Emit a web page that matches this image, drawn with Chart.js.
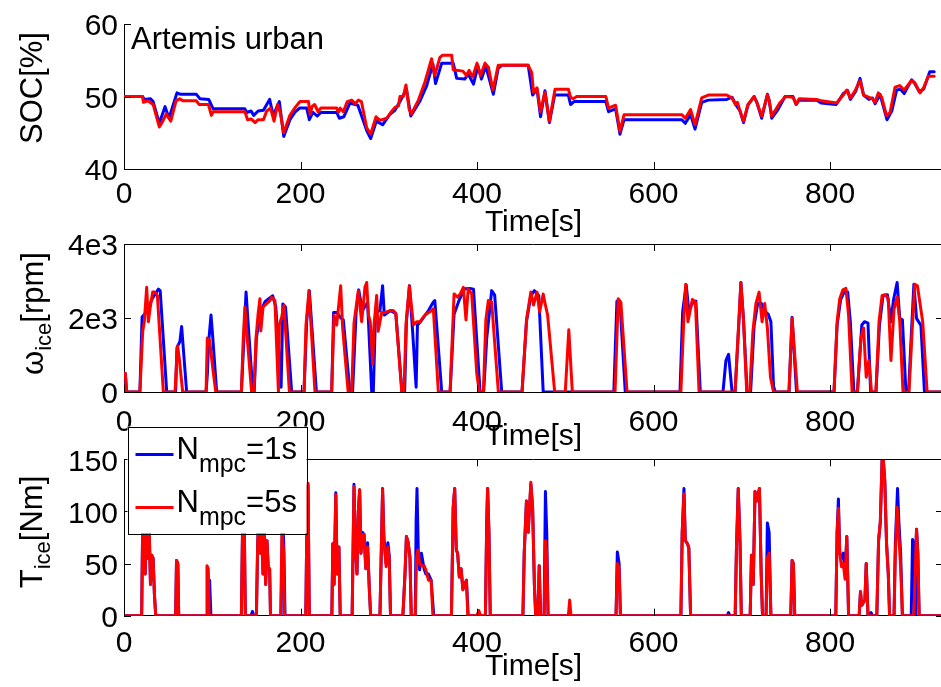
<!DOCTYPE html>
<html>
<head>
<meta charset="utf-8">
<script src="https://cdn.jsdelivr.net/npm/chart.js@4.4.1/dist/chart.umd.min.js"></script>
<style>
html, body { margin: 0; padding: 0; background: #fff; overflow: hidden; width: 941px; height: 687px; }
.panel { position: absolute; left: 0; width: 960px; }
</style>
</head>
<body>
<div class="panel" style="top:0;height:250px"><canvas id="socChart"></canvas></div>
<div class="panel" style="top:220px;height:250px"><canvas id="omegaChart"></canvas></div>
<div class="panel" style="top:415px;height:272px"><canvas id="torqueChart"></canvas></div>
<script>
// time axis
const timeMax = 928;
const timeTicks = [0, 200, 400, 600, 800];

// SOC [%], pairs of [time s, value]
const socTicks = [40, 50, 60];
const socTickLabels = ['40', '50', '60'];
const socBlue = [[0,50.0],[21,50.0],[23,49.6],[30,49.7],[33,49.3],[40,46.3],[46.5,48.6],[51,47.0],[60,50.5],[64,50.3],[82,50.3],[86,49.7],[96,49.6],[101,48.3],[137,48.3],[139,47.8],[144,48.0],[147,47.4],[152,48.0],[158,48.1],[165,49.6],[169,47.4],[176,49.3],[181,44.5],[188,46.8],[194,47.9],[199,48.4],[207,48.4],[210,46.8],[214,47.8],[219,47.3],[223,47.8],[241,47.8],[244,47.0],[249,47.2],[256,49.1],[265,48.8],[275,45.3],[279.5,44.2],[286,46.6],[293,46.1],[301,47.5],[307,48.1],[314,49.6],[320,51.0],[325,47.3],[335,49.3],[343,51.5],[350,54.5],[353,51.8],[360,54.6],[373,54.6],[377,52.5],[386,52.4],[390,53.1],[396,51.7],[401,54.2],[405,52.4],[410,54.2],[418.5,50.3],[424,53.9],[428,54.3],[458,54.3],[463,50.2],[468,51.0],[472,47.2],[477,50.8],[482,46.4],[488,50.2],[503.5,50.2],[506,48.9],[510,49.3],[546,49.3],[549,47.9],[557,48.3],[562,44.8],[566.6,46.8],[632,46.8],[636,46.3],[642,47.5],[647,45.5],[654.6,49.2],[662,49.5],[683,49.6],[689,49.9],[693,48.9],[698,48.0],[702,46.4],[707,48.8],[714,50.0],[717,49.2],[722.6,47.0],[729,50.3],[731,49.5],[734,47.0],[741,48.2],[749,50.0],[758,50.0],[761.5,48.9],[765,49.5],[785,49.5],[790,49.1],[807,48.9],[815,50.4],[820,50.8],[823,49.6],[829,50.7],[834,52.5],[838,50.2],[844,49.6],[848,49.8],[851,49.0],[856.7,50.3],[864.5,46.8],[870,48.0],[875.5,50.9],[880,51.0],[884,50.4],[892.5,52.3],[896,51.8],[901,50.7],[906,51.0],[913,53.4],[918,53.4]];
const socRed = [[0,50.0],[21,50.0],[22,49.2],[27,49.4],[33,48.9],[40,45.8],[44,46.6],[48,47.6],[53,46.6],[59,49.4],[63,49.7],[67,49.4],[82,49.4],[85,48.9],[95.6,48.9],[99,47.4],[101,47.9],[137,47.9],[140,46.8],[144,46.9],[148.5,46.4],[152,46.8],[158,46.8],[161.7,48.0],[166,48.4],[170,46.6],[174,48.9],[177,47.8],[181,45.0],[188,47.4],[194,48.5],[199.4,49.3],[209,49.3],[211,47.5],[213,48.6],[216,48.9],[220,47.9],[223,48.4],[241,48.4],[243,47.8],[245,48.4],[248.5,47.9],[253,49.3],[258,49.5],[262,49.0],[265.5,49.5],[269,49.3],[275,45.7],[279.5,44.8],[285.6,47.2],[290,46.7],[297.7,47.0],[303,47.9],[307,48.5],[311,48.7],[312.7,50.0],[316.5,50.0],[319.5,51.6],[323,48.3],[325.6,47.6],[333.6,49.5],[341,52.0],[348.5,55.2],[352,52.9],[358,55.4],[361,55.7],[371.3,55.7],[373,53.7],[384,53.5],[388,52.9],[391,53.6],[395,52.7],[400,54.6],[404,52.9],[409,54.6],[413,54.0],[418,50.9],[424,54.3],[458,54.3],[462,53.3],[464,50.6],[468,51.2],[472,47.9],[477,50.6],[482,46.6],[488.4,51.0],[503.5,51.0],[506,49.9],[509,49.7],[513,50.0],[546,50.0],[549,48.4],[557,48.8],[562,45.2],[566.6,47.5],[632,47.5],[636,47.0],[642,48.2],[647,46.1],[654.6,49.8],[662,50.2],[683,50.2],[689,49.8],[693,48.9],[695,49.2],[698,48.0],[702,46.6],[707,48.9],[714,50.0],[717,49.2],[722.6,47.3],[729,50.2],[731,49.5],[734,47.3],[743,49.1],[750,50.0],[758,49.9],[762,48.9],[765,49.7],[785,49.6],[790,49.4],[807.5,49.1],[815,50.2],[819,50.9],[823,49.8],[828,50.7],[834,52.2],[838,50.2],[845.6,49.8],[848,49.7],[851,49.2],[854.7,50.5],[858.5,49.9],[864.2,47.3],[868,47.8],[873.7,51.3],[879,51.5],[884,50.9],[892.5,52.2],[896,51.9],[902,50.5],[906,51.2],[911.4,52.8],[918,52.8]];

// engine speed [rpm]
const omegaTicks = [0, 2000, 4000];
const omegaTickLabels = ['0', '2e3', '4e3'];
const omegaBlue = [[0,500],[1.5,500],[3,0],[18,0],[20.5,2030],[25,2150],[32,2520],[39,2780],[41,2740],[48.4,0],[58.5,0],[60,1200],[63.4,1370],[65.3,1770],[71,0],[93,0],[94.5,500],[96,1370],[98.6,2080],[100.5,1500],[105,0],[133,0],[135.5,1250],[138.3,2700],[141,1730],[146,0],[147.5,0],[150,1460],[155,2200],[160,2450],[168.5,2600],[172,2300],[178,130],[180,2380],[183,2300],[190,0],[204,0],[207,1900],[210,2740],[218,0],[235.3,0],[237.5,2150],[241,2150],[246,1990],[248.5,1950],[256,0],[259,0],[263,2150],[266,2760],[270,2200],[276,2420],[280.7,0],[282.5,0],[285,2150],[290,2200],[293,2870],[295,2080],[302,2200],[308,2120],[315,0],[318,0],[320,1900],[323.5,2870],[327,1650],[331,130],[332.5,1810],[336,1900],[345,2200],[350.5,2430],[352.2,2470],[360,0],[369.5,0],[374,2100],[380,2500],[386,2790],[392,2800],[396,2780],[403.5,0],[407.5,0],[411,1450],[416.6,2740],[420,2620],[428,0],[451,0],[456,1900],[461,2600],[465,2740],[470,2600],[475,0],[555,0],[558.5,2450],[562,2400],[568,0],[630,0],[633,2170],[637,2900],[640,2200],[644,2390],[648,2460],[653,0],[678.7,0],[682,850],[685,1020],[689,0],[692.4,0],[697,2000],[699,2960],[702,1950],[706,0],[710,0],[714,1800],[718,2390],[722,2400],[727,2170],[730,2100],[733,1900],[736,150],[738,0],[753.5,0],[757,2020],[762,0],[804.5,0],[808,1800],[812,2500],[816,2700],[820,2700],[823,1900],[827,0],[831,0],[836,1810],[839,1900],[843,1860],[846,0],[852,0],[856,1800],[860,2600],[865,2630],[869,1900],[872,2500],[876,2960],[879,1990],[882,1950],[886,0],[889,0],[892,1500],[895,2910],[898,1990],[903,1800],[907,0],[928,0]];
const omegaRed = [[0,500],[1.5,500],[3,0],[18,0],[21.2,1640],[23,1900],[25.7,2830],[27.6,1900],[29.5,2250],[32.5,2700],[35,2700],[37.8,2610],[44.6,0],[57.8,0],[59.7,890],[60.8,1240],[62.7,890],[66.5,0],[93,0],[94.4,1460],[97,1400],[100.7,620],[104,0],[133,0],[135,1370],[137,2300],[139.6,1460],[144.6,0],[147.3,0],[149.6,1460],[152,2120],[154,2520],[155,1650],[157.6,2300],[165.4,2470],[167.3,2560],[171,2470],[175,0],[176,1810],[178.7,2030],[181.3,2340],[187.4,0],[204,0],[206.2,1810],[209.6,2740],[216.4,0],[235.3,0],[238,2080],[241,1810],[245.5,2870],[247.8,1720],[254,0],[258,0],[260.6,1860],[265.5,2740],[269.3,1900],[273,2830],[275,2960],[277,2080],[279,1900],[281.8,750],[283.3,1810],[286.3,2610],[288,1640],[292,2150],[296,2150],[301.4,2200],[305,2200],[308,2120],[314.7,0],[317.3,0],[319.5,1810],[323.3,2870],[326,2250],[328,1810],[332,1900],[335.4,1900],[341,2080],[348.6,2200],[350.5,2250],[356.2,0],[369.5,0],[374,2650],[378,2560],[381,2650],[384.5,2830],[387.5,1950],[390,2790],[394,2650],[399.7,500],[402.7,0],[407.2,0],[410,1940],[412.8,2470],[416.6,2430],[424.2,0],[451,0],[456.3,1990],[461,2700],[464,2350],[468,2700],[471,2170],[475,2650],[477,2400],[480,2080],[488,0],[500,0],[504,1680],[508,0],[556.4,0],[560,2520],[563,2430],[570,0],[631,0],[634.5,2080],[636.5,2910],[639,1900],[644,2500],[647.5,2430],[651.6,0],[692.4,0],[697,2080],[699,2960],[702,1900],[705.6,0],[709,0],[712.6,1640],[716,2390],[719.6,2700],[723,1900],[726,2390],[729,1730],[732.5,400],[736,0],[753.5,0],[757,2000],[763,0],[804.5,0],[808,1900],[811,2520],[814.6,2760],[818,2800],[821,2080],[825,0],[831,0],[835,1460],[838,1730],[841,400],[844,850],[847,0],[852,0],[855.5,1900],[859,2610],[862.5,2630],[866,2520],[869,850],[872.5,2230],[876,2570],[879,1900],[882.7,0],[889.5,0],[893,1640],[896,2910],[899,2870],[905,1900],[910,0],[928,0]];

// engine torque [Nm]
const torqueTicks = [0, 50, 100, 150];
const torqueTickLabels = ['0', '50', '100', '150'];
const torqueBlue = [[0,0],[20,0],[21,75],[22.5,95],[24,40],[25.5,90],[27,55],[28.5,85],[30,30],[31.5,58],[33,55],[34.5,20],[36,0],[58.5,0],[59.5,53],[61,50],[62,0],[95,0],[96,20],[97,34],[98.5,0],[133,0],[134.5,95],[136,110],[137.5,0],[144,0],[145.5,4],[147,0],[150,0],[151.5,70],[153,100],[154.5,60],[156,105],[157.5,40],[159,85],[160.5,30],[162,72],[163.5,45],[165,45],[166,0],[178,0],[179.5,95],[181,70],[182.5,0],[206,0],[207.5,110],[208.5,125],[210,0],[235.5,0],[236.6,69],[238,30],[240,118],[241.5,40],[243.5,66],[245,0],[258.5,0],[260.6,126],[262,70],[264,40],[265.5,100],[267,120],[268.5,60],[270,80],[272,78],[274,45],[276,70],[278,25],[279.5,0],[290,0],[291.5,60],[293,122],[294.5,75],[297,50],[299,70],[300.5,58],[302,0],[316,0],[318.4,40],[320,76],[322,70],[324,56],[325.5,0],[330,0],[331,90],[332,122],[333.5,60],[335,44],[337,60],[340,45],[342,40],[345,40],[348,34],[351,0],[371,0],[373,104],[374.7,122],[376.5,63],[378,60],[380,37],[382,45],[384,25],[386,30],[388,34],[390,0],[409.5,0],[411,90],[412,122],[413.5,81],[415,0],[452,0],[453.5,60],[456,110],[458,80],[461,126],[463,104],[465,30],[466.5,0],[469,0],[470.5,48],[472,0],[476,0],[477.5,119],[479,80],[480.5,0],[557.5,0],[559,61],[561,50],[562.5,0],[631,0],[632.5,80],[634.5,122],[636,72],[638.5,69],[640,65],[642,0],[683.5,0],[685,3],[686.5,0],[692.5,0],[694,66],[696,122],[698,70],[699.5,0],[709.5,0],[711,58],[713,30],[715,119],[717,110],[720,122],[722,40],[723.5,0],[727.5,0],[729,89],[731,80],[733,0],[755.5,0],[757,53],[758.5,50],[760,0],[806.5,0],[808,80],[809.5,112],[811,60],[813,55],[815,60],[817,40],[819,76],[821,0],[833,0],[834.5,23],[836,10],[839.5,15],[841,50],[843,0],[845,0],[846.5,3],[848,0],[853,0],[855,72],[857,90],[859,150],[860.4,149],[862,130],[864,70],[866,40],[867.5,0],[872.5,0],[874,70],[876.5,122],[878,90],[880,60],[882,0],[892,0],[893.5,73],[895,70],[896.5,0],[897,55],[898,83],[899.5,60],[901,0],[928,0]];
const torqueRed = [[0,0],[20,0],[21,75],[22.5,95],[24,40],[25.5,90],[27,55],[28.5,85],[30,30],[31.5,58],[33,55],[34.5,20],[36,0],[58.5,0],[59.5,53],[61,50],[62,0],[93,0],[94,48],[95.5,45],[96.5,0],[133,0],[134.5,95],[136,110],[137.5,0],[150,0],[151.5,70],[153,100],[154.5,60],[156,105],[157.5,40],[159,85],[160.5,30],[162,72],[163.5,45],[165,45],[166,0],[177.5,0],[179,80],[181,60],[182,0],[206,0],[207.5,110],[208.5,127],[210,0],[235.5,0],[236.6,69],[238,30],[240,116],[241.5,40],[243.5,66],[245,0],[258.5,0],[260.6,124],[262,70],[264,40],[265.5,100],[267,121],[268.5,60],[270,77],[272,78],[274,45],[276,66],[278,25],[279.5,0],[290,0],[291.5,60],[293,121],[294.5,72],[297,47],[299,66],[300.5,55],[302,0],[316,0],[318.4,40],[320,76],[322,70],[324,56],[325.5,0],[330,0],[331.5,56],[333,63],[335,50],[337,48],[340,48],[342,44],[345,34],[348,34],[350,0],[371,0],[373,104],[374.7,122],[376.5,63],[378,60],[380,37],[382,45],[384,25],[386,30],[388,34],[389.6,0],[400,0],[402,5],[404,0],[409.5,0],[411,90],[412,122],[413.5,81],[415,0],[452,0],[453.5,60],[456,110],[458,80],[461,128],[463,104],[465,30],[466.5,0],[469,0],[470.5,48],[472,0],[476,0],[477.5,72],[479,60],[480.5,0],[503.5,0],[505,15],[506.5,0],[557.5,0],[559,50],[561,45],[562.5,0],[631,0],[632.5,80],[634.5,117],[636,72],[638.5,69],[640,65],[642,0],[692.5,0],[694,66],[696,122],[698,70],[699.5,0],[709.5,0],[711,58],[713,30],[715,119],[717,110],[720,122],[722,40],[723.5,0],[727.5,0],[729,55],[731,60],[733,0],[755.5,0],[757,53],[758.5,50],[760,0],[806.5,0],[808,80],[809.5,103],[811,60],[813,47],[815,50],[817,35],[819,76],[821,0],[833,0],[834.5,23],[836,10],[839.5,15],[841,50],[843,0],[853,0],[855,72],[857,90],[859,150],[860.4,149],[862,130],[864,70],[866,40],[867.5,0],[872.5,0],[874,60],[876,104],[878,76],[880,47],[882,0],[895,0],[897,55],[898,83],[899.5,60],[901,0],[928,0]];

const seriesNames = ['N_mpc=1s', 'N_mpc=5s'];
const seriesColors = ['#0000ff', '#ff0000'];

const FONT = '"Liberation Sans", Arial, Helvetica, sans-serif';
const AXIS_LEFT = 124;

Chart.defaults.font.family = FONT;
Chart.defaults.font.size = 30;
Chart.defaults.color = '#000';

// MATLAB style inward ticks and optional box
const matlabAxes = {
  id: 'matlabAxes',
  afterDraw(chart, args, opts) {
    const { ctx, chartArea: a, scales: { x, y } } = chart;
    const len = 7;
    ctx.save();
    ctx.strokeStyle = '#000';
    ctx.lineWidth = 1;
    ctx.beginPath();
    x.ticks.forEach(t => {
      const px = Math.round(x.getPixelForValue(t.value)) + 0.5;
      ctx.moveTo(px, a.bottom); ctx.lineTo(px, a.bottom - len);
      if (opts.box) { ctx.moveTo(px, a.top); ctx.lineTo(px, a.top + len); }
    });
    y.ticks.forEach(t => {
      const py = Math.round(y.getPixelForValue(t.value)) + 0.5;
      ctx.moveTo(a.left, py); ctx.lineTo(a.left + len, py);
      if (opts.box) { ctx.moveTo(a.right, py); ctx.lineTo(a.right - len, py); }
    });
    if (opts.box) {
      ctx.moveTo(a.left, Math.round(a.top) + 0.5); ctx.lineTo(a.right, Math.round(a.top) + 0.5);
      ctx.moveTo(Math.round(a.right) + 0.5, a.top); ctx.lineTo(Math.round(a.right) + 0.5, a.bottom);
    }
    ctx.stroke();
    ctx.restore();
  }
};

// text made of [string, isSubscript] parts
function partsWidth(ctx, parts, size, subSize) {
  let w = 0;
  parts.forEach(p => {
    ctx.font = (p[1] ? subSize : size) + 'px ' + FONT;
    w += ctx.measureText(p[0]).width;
  });
  return w;
}

function drawParts(ctx, parts, x, y, size, subSize, subDrop) {
  parts.forEach(p => {
    ctx.font = (p[1] ? subSize : size) + 'px ' + FONT;
    ctx.fillText(p[0], x, p[1] ? y + subDrop : y);
    x += ctx.measureText(p[0]).width;
  });
}

const panelText = {
  id: 'panelText',
  afterDraw(chart, args, opts) {
    const ctx = chart.ctx;
    ctx.save();
    ctx.fillStyle = '#000';
    ctx.textBaseline = 'alphabetic';
    ctx.textAlign = 'left';
    if (opts.yTitle) {
      const t = opts.yTitle;
      const w = partsWidth(ctx, t.parts, 31, 22);
      ctx.save();
      ctx.translate(t.x, t.y);
      ctx.rotate(-Math.PI / 2);
      drawParts(ctx, t.parts, -w / 2, 0, 31, 22, 8);
      ctx.restore();
    }
    if (opts.note) {
      ctx.font = '31px ' + FONT;
      ctx.fillText(opts.note.text, opts.note.x, opts.note.y);
    }
    if (opts.legend) {
      const L = opts.legend;
      ctx.fillStyle = '#fff';
      ctx.fillRect(L.x, L.y, L.w, L.h);
      ctx.strokeStyle = '#000';
      ctx.lineWidth = 1;
      ctx.strokeRect(Math.round(L.x) + 0.5, Math.round(L.y) + 0.5, L.w, L.h);
      seriesNames.forEach((name, i) => {
        const rowY = L.y + L.firstRow + i * L.rowGap;
        ctx.strokeStyle = seriesColors[i];
        ctx.lineWidth = 3;
        ctx.beginPath();
        ctx.moveTo(L.x + 8, rowY - 4);
        ctx.lineTo(L.x + 46, rowY - 4);
        ctx.stroke();
        const m = name.match(/^(\w)_(\w+)(.*)$/);
        ctx.fillStyle = '#000';
        drawParts(ctx, [[m[1], false], [m[2], true], [m[3], false]], L.x + 49, rowY, 31, 25, 13);
      });
    }
    ctx.restore();
  }
};

function toPoints(pairs) {
  return pairs.map(p => ({ x: p[0], y: p[1] }));
}

function timeAxis(height, tickPad, titlePad) {
  return {
    type: 'linear',
    min: 0,
    max: timeMax,
    afterBuildTicks: s => { s.ticks = timeTicks.map(v => ({ value: v })); },
    afterFit: s => { s.height = height; },
    grid: { display: true, drawOnChartArea: false, drawTicks: false },
    border: { display: true, color: '#000', width: 1 },
    ticks: { padding: tickPad, maxRotation: 0, autoSkip: false, callback: v => String(v) },
    title: { display: true, text: 'Time[s]', padding: { top: 0, bottom: titlePad } }
  };
}

function valueAxis(min, max, ticks, labels) {
  return {
    type: 'linear',
    min: min,
    max: max,
    afterBuildTicks: s => { s.ticks = ticks.map(v => ({ value: v })); },
    afterFit: s => { s.width = AXIS_LEFT; },
    grid: { display: true, drawOnChartArea: false, drawTicks: false },
    border: { display: true, color: '#000', width: 1 },
    ticks: { padding: 6, labelOffset: 3, callback: (v, i) => labels[i] }
  };
}

function makeChart(id, blue, red, yAxis, xAxis, padTop, box, text) {
  const ctx = document.getElementById(id).getContext('2d');
  return new Chart(ctx, {
    type: 'line',
    data: {
      datasets: [
        { label: seriesNames[0], data: toPoints(blue), borderColor: seriesColors[0], borderWidth: 3, order: 2 },
        { label: seriesNames[1], data: toPoints(red), borderColor: seriesColors[1], borderWidth: 3, order: 1 }
      ]
    },
    options: {
      responsive: true,
      maintainAspectRatio: false,
      animation: false,
      layout: { padding: { top: padTop, right: 17, left: 0, bottom: 0 } },
      elements: {
        point: { radius: 0 },
        line: { tension: 0, borderJoinStyle: 'round', borderCapStyle: 'round' }
      },
      scales: { x: xAxis, y: yAxis },
      plugins: {
        legend: { display: false },
        tooltip: { enabled: false },
        matlabAxes: { box: box },
        panelText: text
      }
    },
    plugins: [matlabAxes, panelText]
  });
}

makeChart('socChart', socBlue, socRed,
  valueAxis(40, 60, socTicks, socTickLabels), timeAxis(81, 8, 9), 20.7, false,
  { yTitle: { parts: [['SOC[%]', false]], x: 41.5, y: 88 }, note: { text: 'Artemis urban', x: 131, y: 49 } });

makeChart('omegaChart', omegaBlue, omegaRed,
  valueAxis(0, 4000, omegaTicks, omegaTickLabels), timeAxis(78, 13, 15), 20.7, true,
  { yTitle: { parts: [['ω', false], ['ice', true], ['[rpm]', false]], x: 43, y: 93.5 } });

makeChart('torqueChart', torqueBlue, torqueRed,
  valueAxis(0, 150, torqueTicks, torqueTickLabels), timeAxis(71.3, 10, 2), 44.3, true,
  { yTitle: { parts: [['T', false], ['ice', true], ['[Nm]', false]], x: 42, y: 117 },
    legend: { x: 127.5, y: 11.5, w: 179, h: 107, firstRow: 32, rowGap: 53 } });
</script>
</body>
</html>
